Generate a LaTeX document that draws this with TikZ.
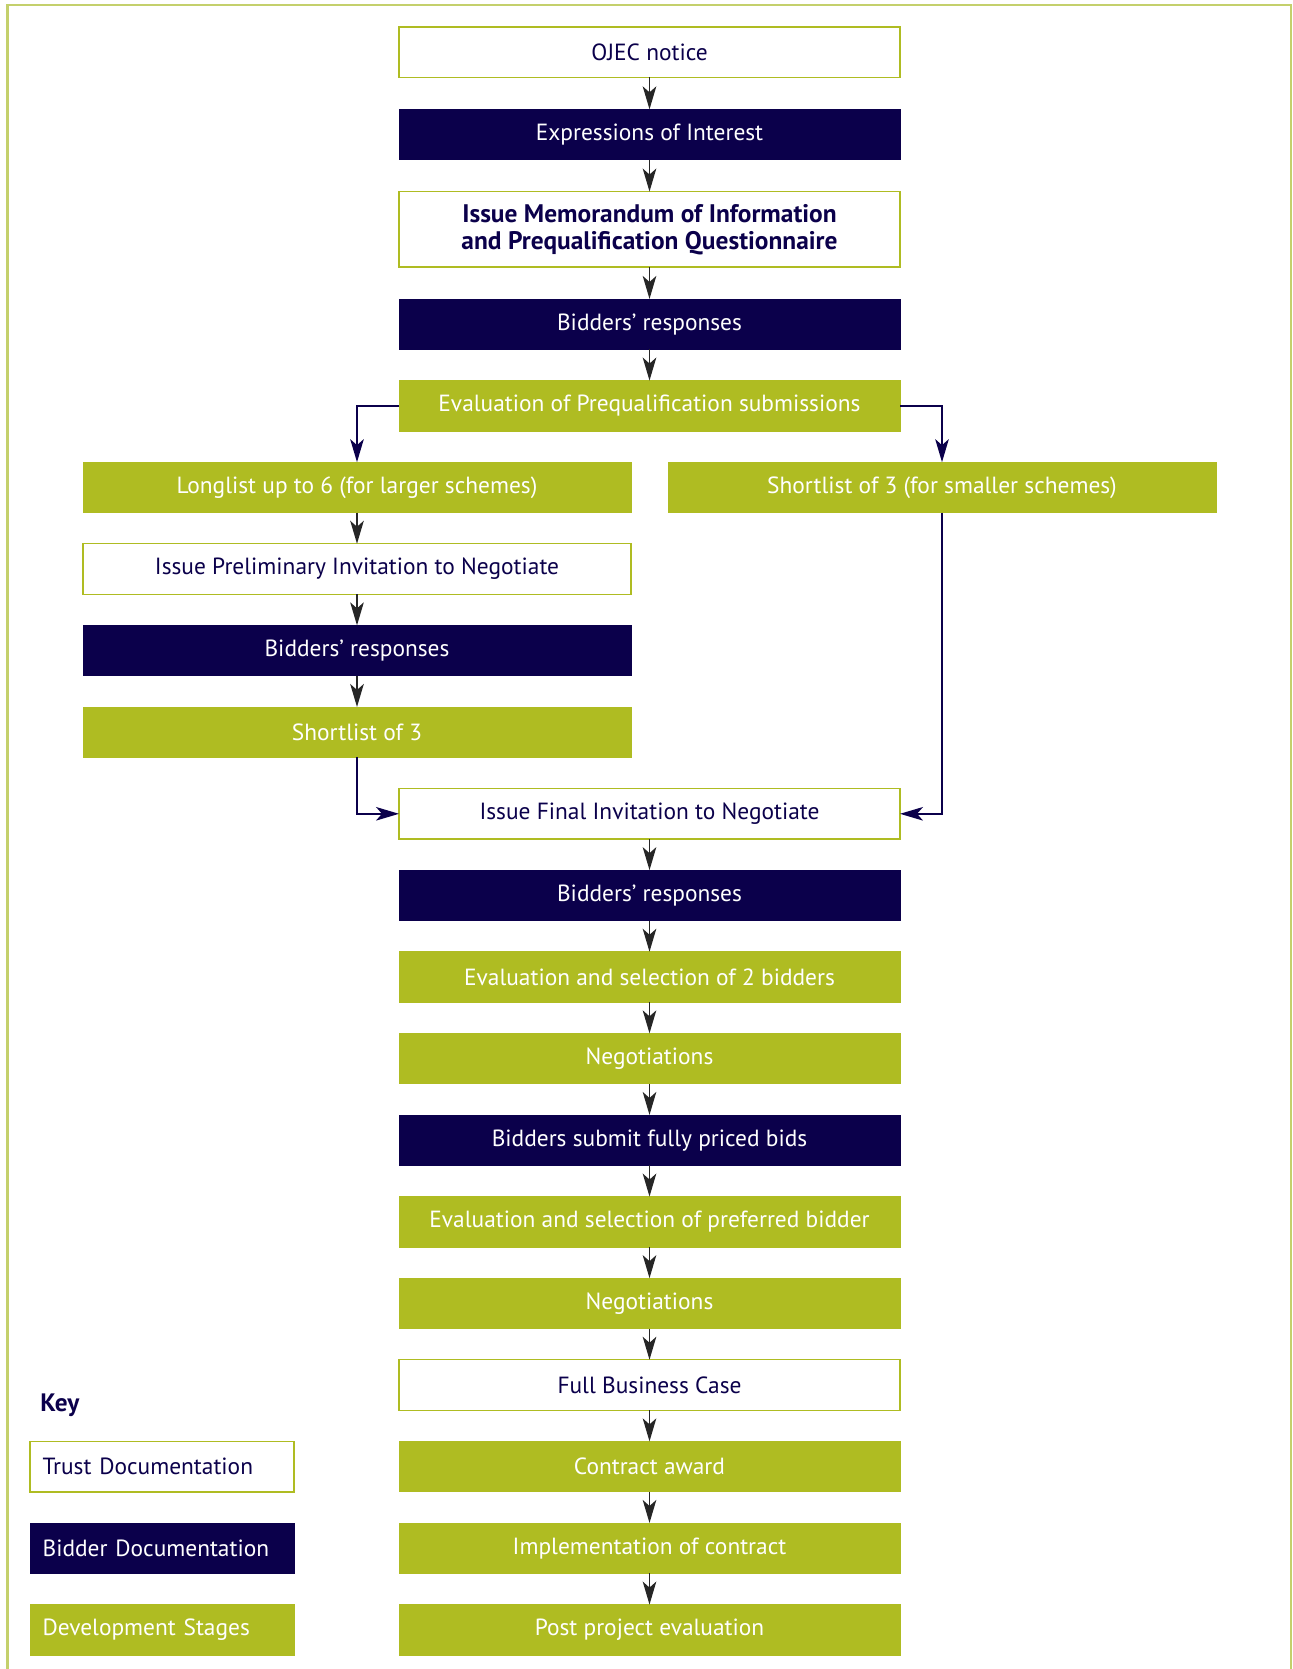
\documentclass[tikz,border=0pt]{standalone}
\usepackage{fontspec}
\setmainfont{PT Sans}
\usetikzlibrary{arrows.meta}

\definecolor{navy}{HTML}{0B004B}
\definecolor{lime}{HTML}{AFBC22}
\definecolor{framegreen}{HTML}{C4D06C}
\definecolor{arrowgrey}{HTML}{262626}

\tikzset{
  box/.style={minimum width=250.5pt, minimum height=25.25pt, inner sep=0pt, outer sep=0pt,
              font=\fontsize{11.7pt}{13.3pt}\selectfont, align=center},
  trust/.style={box, fill=white, draw=lime, line width=0.7pt, text=navy},
  bidder/.style={box, fill=navy, draw=navy, text=white},
  devstage/.style={box, fill=lime, draw=lime, text=white},
  sidecol/.style={minimum width=274pt},
  keybox/.style={minimum width=132pt, text width=119.4pt, inner xsep=6.3pt, align=left},
  flow/.style={draw=arrowgrey, line width=0.7pt, -{Stealth[length=11.5pt,width=6.8pt,inset=3pt]}},
  branch/.style={flow, draw=navy},
}

\begin{document}
\begin{tikzpicture}[x=0.5pt, y=-0.5pt]
  \useasboundingbox (0,0) rectangle (1292,1669);

  % outer frame, open at the bottom
  \draw[framegreen, line width=1.3pt] (7.5,1672) -- (7.5,5) -- (1291,5) -- (1291,1672);

  % main column
  \node[trust]  (ojec)    at (649.5,52.2)  {OJEC notice};
  \node[bidder] (eoi)     at (649.5,134.6) {Expressions of Interest};
  \node[trust, minimum height=37.75pt, font=\fontsize{12.7pt}{13.6pt}\selectfont\bfseries]
                (memo)    at (649.5,229.3) {Issue Memorandum of Information\\and Prequalification Questionnaire};
  \node[bidder] (resp1)   at (649.5,324.2) {Bidders’ responses};
  \node[devstage] (evalpq) at (649.5,405.8) {Evaluation of Prequalification submissions};

  % left branch
  \node[devstage, sidecol] (longlist) at (357,487.4) {Longlist up to 6 (for larger schemes)};
  \node[trust, sidecol]    (prelim)   at (357,569.0) {Issue Preliminary Invitation to Negotiate};
  \node[bidder, sidecol]   (resp2)    at (357,650.6) {Bidders’ responses};
  \node[devstage, sidecol] (short3)   at (357,732.2) {Shortlist of 3};

  % right branch
  \node[devstage, sidecol] (shortsm)  at (942,487.4) {Shortlist of 3 (for smaller schemes)};

  % main column continued
  \node[trust]    (final)   at (649.5,813.8)  {Issue Final Invitation to Negotiate};
  \node[bidder]   (resp3)   at (649.5,895.4)  {Bidders’ responses};
  \node[devstage] (eval2)   at (649.5,977.0)  {Evaluation and selection of 2 bidders};
  \node[devstage] (neg1)    at (649.5,1058.6) {Negotiations};
  \node[bidder]   (priced)  at (649.5,1140.2) {Bidders submit fully priced bids};
  \node[devstage] (evalpb)  at (649.5,1221.8) {Evaluation and selection of preferred bidder};
  \node[devstage] (neg2)    at (649.5,1303.4) {Negotiations};
  \node[trust]    (fbc)     at (649.5,1385.0) {Full Business Case};
  \node[devstage] (award)   at (649.5,1466.6) {Contract award};
  \node[devstage] (impl)    at (649.5,1548.2) {Implementation of contract};
  \node[devstage] (ppe)     at (649.5,1629.8) {Post project evaluation};

  % key
  \node[anchor=west, inner sep=0pt, text=navy, font=\fontsize{12.6pt}{13pt}\selectfont\bfseries]
        (keytitle) at (40,1405) {Key};
  \node[trust, keybox]    (keytrust)  at (162,1466.6) {Trust Documentation};
  \node[bidder, keybox]   (keybidder) at (162,1548.2) {Bidder Documentation};
  \node[devstage, keybox] (keydev)    at (162,1629.8) {Development Stages};

  % main flow
  \draw[flow] (ojec)  -- (eoi);
  \draw[flow] (eoi.south)   -- (memo.north);
  \draw[flow] (memo.south)  -- (resp1.north);
  \draw[flow] (resp1.south) -- (evalpq.north);
  \draw[flow] (final.south) -- (resp3.north);
  \draw[flow] (resp3.south) -- (eval2.north);
  \draw[flow] (eval2.south) -- (neg1.north);
  \draw[flow] (neg1.south)  -- (priced.north);
  \draw[flow] (priced.south) -- (evalpb.north);
  \draw[flow] (evalpb.south) -- (neg2.north);
  \draw[flow] (neg2.south)  -- (fbc.north);
  \draw[flow] (fbc.south)   -- (award.north);
  \draw[flow] (award.south) -- (impl.north);
  \draw[flow] (impl.south)  -- (ppe.north);

  % left branch flow
  \draw[flow] (longlist.south) -- (prelim.north);
  \draw[flow] (prelim.south)   -- (resp2.north);
  \draw[flow] (resp2.south)    -- (short3.north);

  % branching connectors
  \draw[branch] (evalpq.west) -| (longlist.north);
  \draw[branch] (evalpq.east) -| (shortsm.north);
  \draw[branch] (short3.south) |- (final.west);
  \draw[branch] (shortsm.south) |- (final.east);
\end{tikzpicture}
\end{document}
